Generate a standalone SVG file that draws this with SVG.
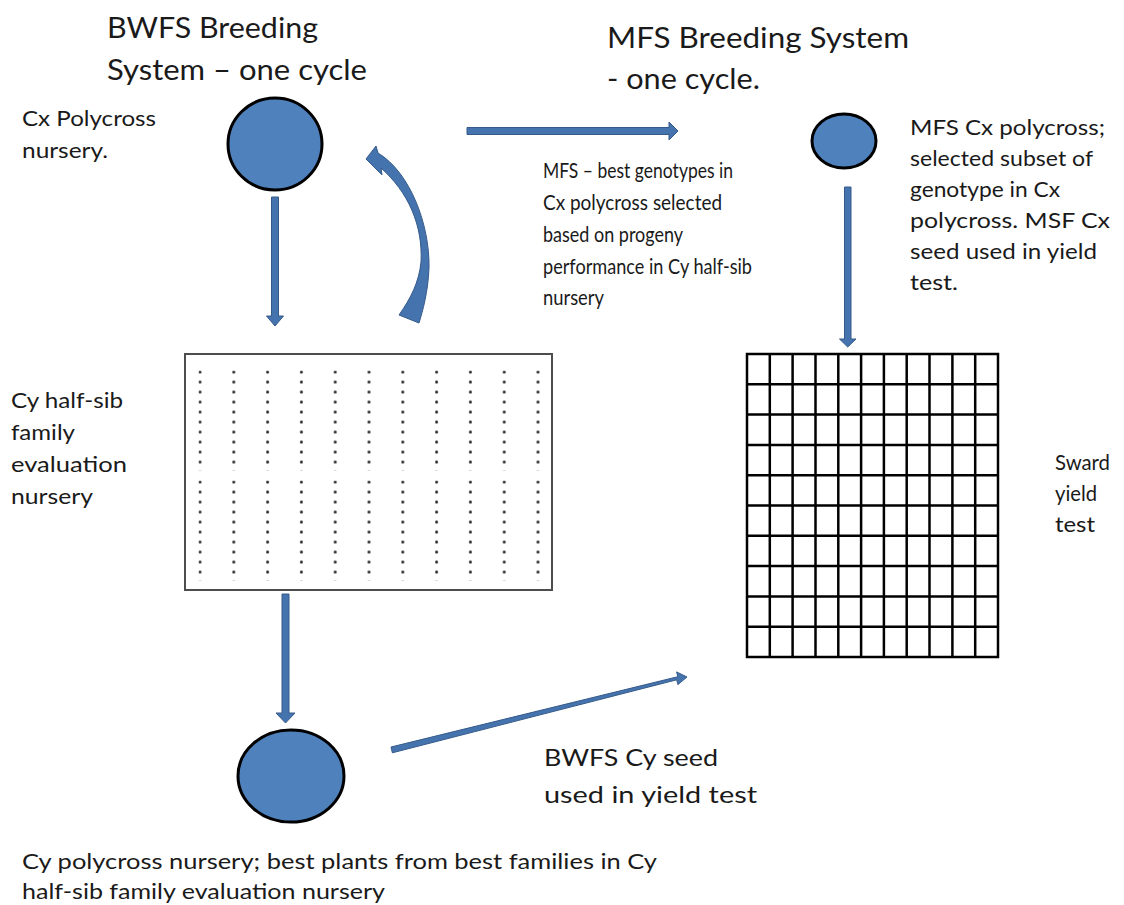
<svg xmlns="http://www.w3.org/2000/svg" width="1124" height="905" viewBox="0 0 1124 905">
<style>
.t{font-family:Lato,"Open Sans","Liberation Sans",sans-serif;fill:#1a1a1a}
.ti{font-size:29px}
.b{font-size:21px}
.m{font-size:20.5px}
.node{fill:#4F81BD;stroke:#000;stroke-width:3}
.arr{fill:#4573AE;stroke:#355A8A;stroke-width:1}
.grid{stroke:#000;stroke-width:2.5;fill:none}
</style>
<defs>
<pattern id="dots" x="198.5" y="370.5" width="33.8" height="10" patternUnits="userSpaceOnUse">
<circle cx="1.5" cy="1.5" r="1.5" fill="#222"/>
</pattern>
</defs>
<rect width="1124" height="905" fill="#fff"/>

<g id="title-bwfs" class="t ti">
<text x="107" y="38" textLength="211" lengthAdjust="spacingAndGlyphs">BWFS Breeding</text>
<text x="107" y="80" textLength="260" lengthAdjust="spacingAndGlyphs">System – one cycle</text>
</g>
<g id="title-mfs" class="t ti">
<text x="607" y="48" textLength="302" lengthAdjust="spacingAndGlyphs">MFS Breeding System</text>
<text x="607" y="89" textLength="153" lengthAdjust="spacingAndGlyphs">- one cycle.</text>
</g>

<g id="cx-polycross">
<ellipse class="node" cx="275" cy="144" rx="47" ry="46"/>
<g class="t b">
<text x="22" y="126" textLength="134" lengthAdjust="spacingAndGlyphs">Cx Polycross</text>
<text x="22" y="158" textLength="86" lengthAdjust="spacingAndGlyphs">nursery.</text>
</g>
</g>

<g id="mfs-cx-polycross">
<ellipse class="node" cx="844" cy="141" rx="32" ry="27"/>
<g class="t b">
<text x="910" y="135" textLength="195" lengthAdjust="spacingAndGlyphs">MFS  Cx polycross;</text>
<text x="910" y="166" textLength="183" lengthAdjust="spacingAndGlyphs">selected subset of</text>
<text x="910" y="197" textLength="150" lengthAdjust="spacingAndGlyphs">genotype in Cx</text>
<text x="910" y="228" textLength="200" lengthAdjust="spacingAndGlyphs">polycross.  MSF Cx</text>
<text x="910" y="259" textLength="187" lengthAdjust="spacingAndGlyphs">seed used in yield</text>
<text x="910" y="290" textLength="48" lengthAdjust="spacingAndGlyphs">test.</text>
</g>
</g>

<g id="cy-halfsib-nursery">
<rect x="185" y="354" width="367" height="236" fill="#fff" stroke="#4d4d4d" stroke-width="2"/>
<rect x="198.5" y="370.5" width="345" height="100" fill="url(#dots)"/>
<rect x="198.5" y="480.5" width="345" height="100" fill="url(#dots)"/>
<g class="t b">
<text x="11" y="408" textLength="112" lengthAdjust="spacingAndGlyphs">Cy half-sib</text>
<text x="11" y="440" textLength="64" lengthAdjust="spacingAndGlyphs">family</text>
<text x="11" y="472" textLength="116" lengthAdjust="spacingAndGlyphs">evaluation</text>
<text x="11" y="504" textLength="82" lengthAdjust="spacingAndGlyphs">nursery</text>
</g>
</g>

<g id="sward-yield-test">
<rect class="grid" x="747" y="354" width="251" height="303"/>
<path class="grid" d="M769.8 354V657M792.6 354V657M815.5 354V657M838.3 354V657M861.1 354V657M883.9 354V657M906.7 354V657M929.5 354V657M952.4 354V657M975.2 354V657
M747 384.3H998M747 414.6H998M747 444.9H998M747 475.2H998M747 505.5H998M747 535.8H998M747 566.1H998M747 596.4H998M747 626.7H998"/>
<g class="t b">
<text x="1055" y="470" textLength="55" lengthAdjust="spacingAndGlyphs">Sward</text>
<text x="1055" y="501" textLength="42" lengthAdjust="spacingAndGlyphs">yield</text>
<text x="1055" y="532" textLength="40" lengthAdjust="spacingAndGlyphs">test</text>
</g>
</g>

<g id="cy-polycross">
<ellipse class="node" cx="291" cy="776" rx="53" ry="46"/>
<g class="t" style="font-size:21px">
<text x="22" y="869" textLength="635" lengthAdjust="spacingAndGlyphs">Cy polycross nursery; best plants from best families in Cy</text>
<text x="22" y="899" textLength="363" lengthAdjust="spacingAndGlyphs">half-sib family evaluation nursery</text>
</g>
</g>

<g id="connectors">
<path class="arr" d="M271.5 197H278.5V316H283.5L275 326L266.5 316H271.5Z"/>
<path class="arr" d="M282 594H289V713H295L285.5 723L276 713H282Z"/>
<path class="arr" d="M844.5 187H851V339H856L847.7 347L839.5 339H844.5Z"/>
<path class="arr" d="M467 127.5H669V122L678 131L669 140V134.5H467Z"/>
<path class="arr" d="M391 747L677.8 676.7L676.6 671.9L687 677L677.9 684.6L676.7 679.8L392.4 752.8Z"/>
<path class="arr" d="M366 159L376 146L378 153C410 172 430 225 429 268C428 292 423 310 419 323L399 315C411 298 419 282 421 262C423 225 408 192 381 168L382 175Z"/>
</g>

<g id="label-mfs" class="t m">
<text x="543" y="178" textLength="190" lengthAdjust="spacingAndGlyphs">MFS – best genotypes in</text>
<text x="543" y="210" textLength="179" lengthAdjust="spacingAndGlyphs">Cx polycross selected</text>
<text x="543" y="242" textLength="140" lengthAdjust="spacingAndGlyphs">based on progeny</text>
<text x="543" y="274" textLength="209" lengthAdjust="spacingAndGlyphs">performance in Cy half-sib</text>
<text x="543" y="305" textLength="61" lengthAdjust="spacingAndGlyphs">nursery</text>
</g>
<g id="label-bwfs" class="t" style="font-size:24px">
<text x="544" y="766" textLength="174" lengthAdjust="spacingAndGlyphs">BWFS Cy seed</text>
<text x="544" y="803" textLength="213" lengthAdjust="spacingAndGlyphs">used in yield test</text>
</g>
</svg>
